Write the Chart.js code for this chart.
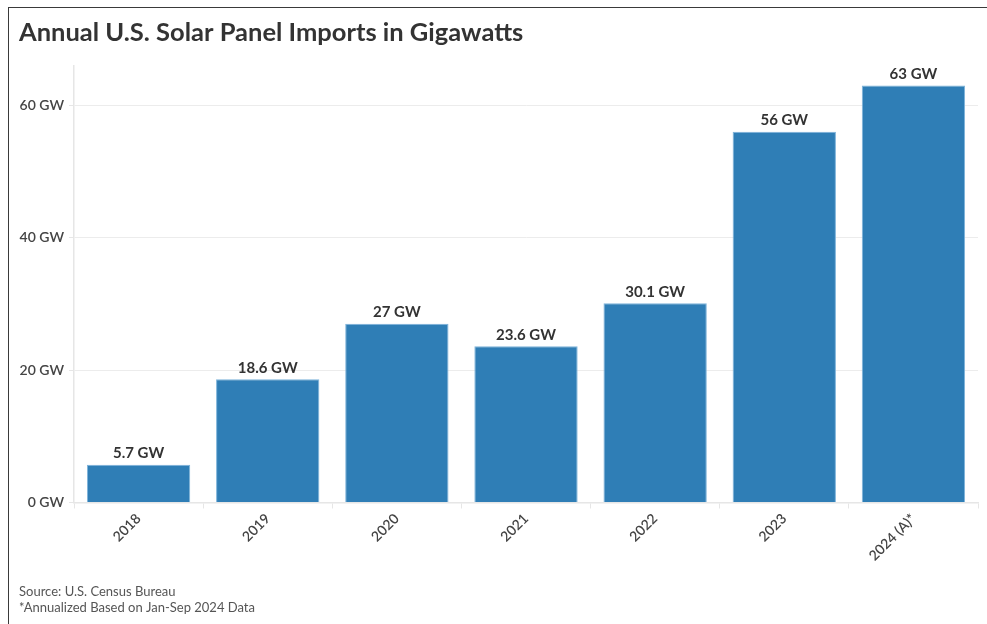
<!DOCTYPE html>
<html>
<head>
<meta charset="utf-8">
<script src="https://cdn.jsdelivr.net/npm/chart.js@4"></script>
<style>
  html, body { margin: 0; padding: 0; background: #fff; }
  #wrap { position: relative; width: 987px; height: 624px; }
  #frame {
    position: absolute; left: 8px; top: 7px; right: 0; bottom: 0;
    border-left: 1.5px solid #3a3a3a; border-top: 1.5px solid #3a3a3a;
    pointer-events: none;
  }
</style>
</head>
<body>
<div id="wrap">
  <canvas id="importsChart" width="987" height="624"></canvas>
  <div id="frame"></div>
</div>
<script>
// dados
const years = ['2018', '2019', '2020', '2021', '2022', '2023', '2024 (A)*'];
const importsGW = [5.7, 18.6, 27, 23.6, 30.1, 56, 63];
const yTicks = [0, 20, 40, 60];

const corBarra = '#2f7eb6';
const corTexto = '#444';
const fonte = 'Lato, "Noto Sans", sans-serif';

// rótulos acima das barras (sem plugin datalabels)
const barLabels = {
  id: 'barLabels',
  afterDatasetsDraw(chart) {
    const ctx = chart.ctx;
    const meta = chart.getDatasetMeta(0);
    ctx.save();
    ctx.font = 'bold 15px ' + fonte;
    ctx.fillStyle = '#333';
    ctx.textAlign = 'center';
    ctx.textBaseline = 'bottom';
    meta.data.forEach((bar, i) => {
      ctx.fillText(importsGW[i] + ' GW', bar.x, bar.y - 4);
    });
    ctx.restore();
  },
};

const ctx = document.getElementById('importsChart').getContext('2d');

new Chart(ctx, {
  type: 'bar',
  data: {
    labels: years,
    datasets: [
      {
        label: 'Imports',
        data: importsGW,
        backgroundColor: corBarra,
        borderColor: '#7db3da',
        borderWidth: 1,
        barPercentage: 0.8,
        categoryPercentage: 1,
      },
    ],
  },
  options: {
    responsive: false,
    animation: false,
    layout: { padding: { left: 19, right: 9, top: 0, bottom: 0 } },
    scales: {
      x: {
        afterFit: (scale) => { scale.height = 70; },
        grid: { color: 'transparent', tickColor: '#e6e6e6', tickLength: 6 },
        border: { color: '#e6e6e6', width: 1.5 },
        ticks: {
          color: corTexto,
          font: { family: fonte, size: 14, weight: '600' },
          minRotation: 45,
          maxRotation: 45,
          padding: 2,
        },
      },
      y: {
        min: 0,
        max: 66,
        afterFit: (scale) => { scale.width = 55; },
        afterBuildTicks: (scale) => {
          scale.ticks = yTicks.map((v) => ({ value: v }));
        },
        grid: { color: '#ececec', tickColor: '#e6e6e6', tickLength: 5 },
        border: { color: '#e6e6e6', width: 1.5 },
        ticks: {
          color: corTexto,
          font: { family: fonte, size: 14, weight: '600' },
          padding: 5,
          callback: (value) => value + ' GW',
        },
      },
    },
    plugins: {
      legend: { display: false },
      tooltip: { enabled: false },
      title: {
        display: true,
        text: 'Annual U.S. Solar Panel Imports in Gigawatts',
        align: 'start',
        color: '#333',
        font: { family: fonte, size: 25.5, weight: 'bold', lineHeight: 1.2 },
        padding: { top: 17, bottom: 18 },
      },
      subtitle: {
        display: true,
        position: 'bottom',
        align: 'start',
        text: ['Source: U.S. Census Bureau', '*Annualized Based on Jan-Sep 2024 Data'],
        color: '#555',
        font: { family: fonte, size: 13, lineHeight: 1.25 },
        padding: { top: 11, bottom: 8 },
      },
    },
  },
  plugins: [barLabels],
});
</script>
</body>
</html>
